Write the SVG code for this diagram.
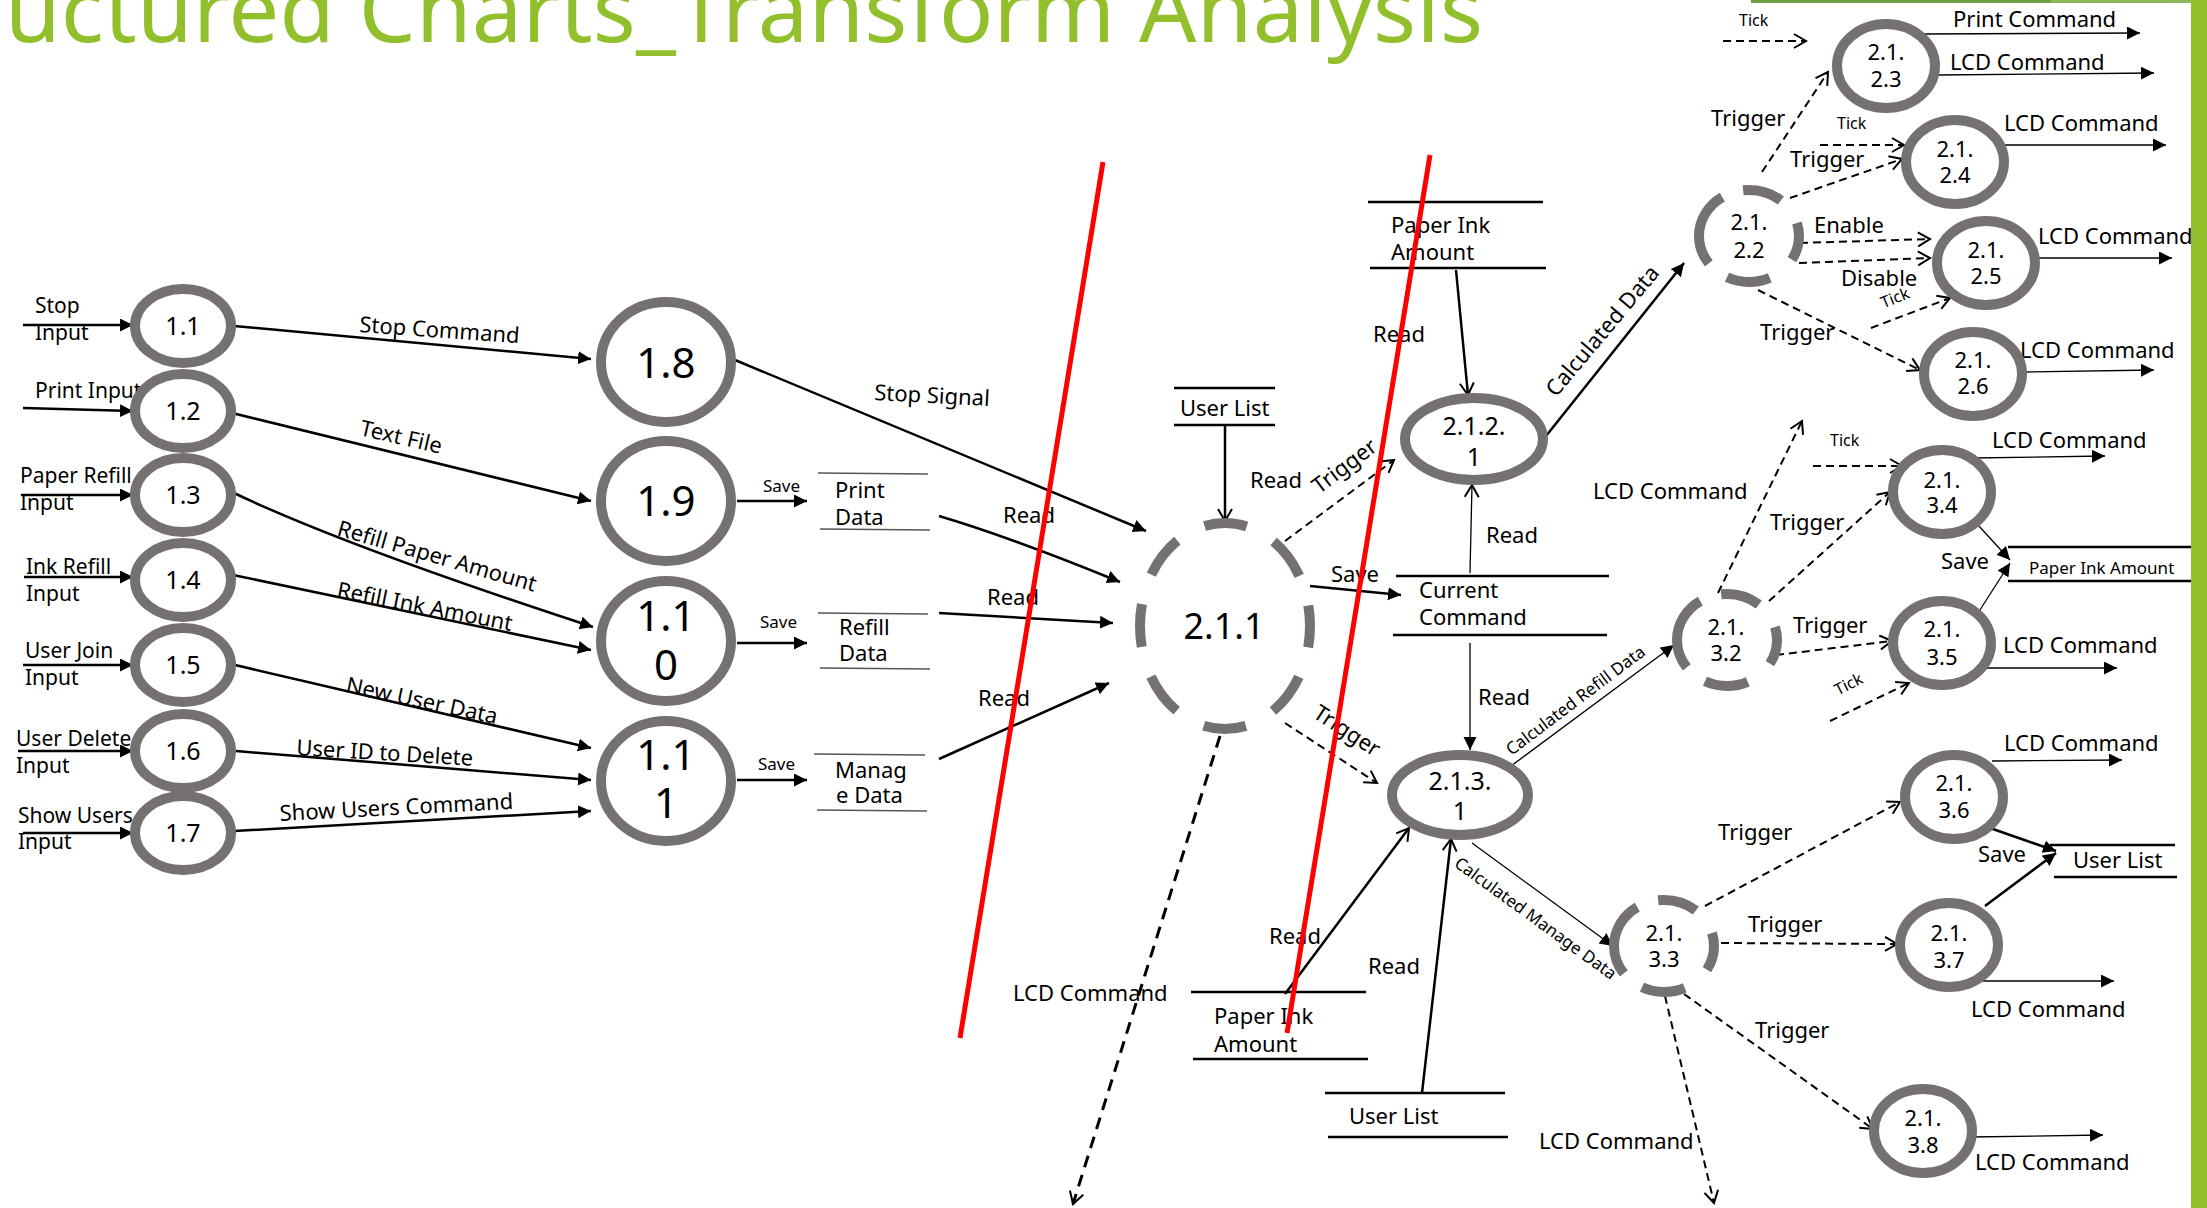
<svg xmlns="http://www.w3.org/2000/svg" width="2207" height="1208" viewBox="0 0 2207 1208">
<defs>
<style>
text{font-family:"Noto Sans","Open Sans","Liberation Sans",sans-serif;fill:#000;font-size:22px}
.ring{fill:#fff;stroke:#767171;stroke-width:10}
.dring{fill:none;stroke:#767171;stroke-width:10;stroke-dasharray:39 29 44 23 77 22 40 28;stroke-dashoffset:14}
.s{fill:none;stroke:#000;stroke-width:2.5;marker-end:url(#af)}
.so{fill:none;stroke:#000;stroke-width:2.5;marker-end:url(#ao)}
.th{fill:none;stroke:#000;stroke-width:1.3;marker-end:url(#af)}
.tho{fill:none;stroke:#000;stroke-width:1.3;marker-end:url(#ao)}
.d{fill:none;stroke:#000;stroke-width:2;stroke-dasharray:8 5;marker-end:url(#ao)}
.st{stroke:#000;stroke-width:2.5}
.st2{stroke:#555;stroke-width:1.5}
.red{stroke:#f00;stroke-width:5}
.c25{font-size:25px;text-anchor:middle}
.c22{font-size:22px;text-anchor:middle}
.c42{font-size:42px;text-anchor:middle}
.sm{font-size:17px}
.tk{font-size:16px}
.in{font-size:21px}
</style>
<marker id="af" markerUnits="userSpaceOnUse" markerWidth="14" markerHeight="14" refX="13" refY="6.5" orient="auto"><path d="M0,0 L13,6.5 L0,13 z" fill="#000"/></marker>
<marker id="ao" markerUnits="userSpaceOnUse" markerWidth="16" markerHeight="18" refX="13" refY="8" orient="auto" overflow="visible"><path d="M1,1 L13,8 L1,15" fill="none" stroke="#000" stroke-width="2"/></marker>
</defs>
<rect x="0" y="0" width="2207" height="1208" fill="#fff"/>
<g id="frame">
<rect x="1751" y="0" width="300" height="3" fill="#6F9E45"/>
<rect x="2051" y="0" width="140" height="3" fill="#8DB85A"/>
<rect x="2191" y="0" width="16" height="1208" fill="#92C02C"/>
<text x="5" y="42" font-size="90" fill="#92C02C" style="fill:#92C02C;font-size:90px" textLength="1478">uctured Charts_Transform Analysis</text>
</g>

<g id="connectors">
<!-- inputs -->
<path class="s" d="M23,325 H133"/>
<path class="s" d="M23,408 L133,411"/>
<path class="s" d="M21,495 H133"/>
<path class="s" d="M24,577 H133"/>
<path class="s" d="M23,665 H133"/>
<path class="s" d="M18,751 H133"/>
<path class="s" d="M23,833 H133"/>
<text class="in" x="35" y="313">Stop</text><text class="in" x="35" y="340">Input</text>
<text class="in" x="35" y="398">Print Input</text>
<text class="in" x="20" y="483">Paper Refill</text><text class="in" x="20" y="510">Input</text>
<text class="in" x="26" y="574">Ink Refill</text><text class="in" x="26" y="601">Input</text>
<text class="in" x="25" y="658">User Join</text><text class="in" x="25" y="685">Input</text>
<text class="in" x="16" y="746">User Delete</text><text class="in" x="16" y="773">Input</text>
<text class="in" x="18" y="823">Show Users</text><text class="in" x="18" y="849">Input</text>
<!-- left to big -->
<path class="s" d="M234,326 L591,359"/>
<text x="359" y="332" transform="rotate(4 359 332)">Stop Command</text>
<path class="s" d="M232,413 L591,501"/>
<text x="359" y="435" transform="rotate(13 359 435)">Text File</text>
<path class="s" d="M234,493 Q345,546 593,627"/>
<text x="336" y="535" transform="rotate(16 336 535)">Refill Paper Amount</text>
<path class="s" d="M233,575 L591,650"/>
<text x="336" y="597" transform="rotate(11 336 597)">Refill Ink Amount</text>
<path class="s" d="M235,665 L591,748"/>
<text x="345" y="692" transform="rotate(12 345 692)">New User Data</text>
<path class="s" d="M236,751 L591,780"/>
<text x="296" y="755" transform="rotate(3.5 296 755)">User ID to Delete</text>
<path class="s" d="M234,831 L591,811"/>
<text x="280" y="821" transform="rotate(-3 280 821)">Show Users Command</text>
<!-- big circles out -->
<path class="s" d="M735,360 L1146,531"/>
<text x="874" y="400" transform="rotate(3 874 400)">Stop Signal</text>
<path class="s" d="M737,501 H807"/><text class="sm" x="763" y="492">Save</text>
<path class="s" d="M737,643 H807"/><text class="sm" x="760" y="628">Save</text>
<path class="s" d="M737,780 H807"/><text class="sm" x="758" y="770">Save</text>
<path class="s" d="M939,516 Q1010,537 1120,582"/><text x="1003" y="523">Read</text>
<path class="s" d="M939,613 L1113,623"/><text x="987" y="605">Read</text>
<path class="s" d="M939,759 L1109,683"/><text x="978" y="706">Read</text>
<!-- around 2.1.1 -->
<path class="so" d="M1225,425 V521"/><text x="1250" y="488">Read</text>
<path class="d" d="M1285,541 L1394,460"/>
<text class="c22" x="1349" y="472" transform="rotate(-37 1349 472)">Trigger</text>
<path class="s" d="M1310,586 L1401,595"/><text x="1331" y="582">Save</text>
<path class="tho" d="M1470,573 L1472,485"/><text x="1486" y="543">Read</text>
<path class="th" d="M1470,643 V750"/><text x="1478" y="705">Read</text>
<path class="so" d="M1456,270 L1468,395"/><text x="1373" y="342">Read</text>
<path class="s" d="M1546,436 L1684,263"/>
<text x="1556" y="398" transform="rotate(-50 1556 398)">Calculated Data</text>
<path class="d" d="M1285,723 L1377,783"/>
<text class="c22" x="1343" y="737" transform="rotate(33 1343 737)">Trigger</text>
<path d="M1220,736 L1073,1204" fill="none" stroke="#000" stroke-width="3" stroke-dasharray="12 8" marker-end="url(#ao)"/>
<text x="1013" y="1001">LCD Command</text>
<path class="so" d="M1285,994 L1409,828"/><text x="1269" y="944">Read</text>
<path class="so" d="M1422,1093 L1451,839"/><text x="1368" y="974">Read</text>
<path class="th" d="M1511,766 L1674,645"/>
<text class="sm" x="1579" y="705" text-anchor="middle" transform="rotate(-37 1579 705)">Calculated Refill Data</text>
<path class="th" d="M1472,843 L1613,946"/>
<text class="sm" x="1532" y="923" text-anchor="middle" transform="rotate(36 1532 923)">Calculated Manage Data</text>
<!-- 2.1.2.x -->
<path class="d" d="M1723,41 H1806"/><text class="tk" x="1739" y="26">Tick</text>
<path class="d" d="M1762,172 L1828,72"/><text x="1711" y="126">Trigger</text>
<path class="th" d="M1922,34 L2140,33"/><text x="1953" y="27">Print Command</text>
<path class="th" d="M1936,75 L2154,73"/><text x="1950" y="70">LCD Command</text>
<path class="d" d="M1820,145 H1904"/><text class="tk" x="1837" y="129">Tick</text>
<path class="d" d="M1790,198 L1902,159"/><text x="1790" y="167">Trigger</text>
<path class="th" d="M2004,145 H2166"/><text x="2004" y="131">LCD Command</text>
<path class="d" d="M1800,243 L1930,239"/><text x="1814" y="233">Enable</text>
<path class="d" d="M1799,263 L1930,258"/><text x="1841" y="286">Disable</text>
<path class="th" d="M2036,258 H2172"/><text x="2038" y="244">LCD Command</text>
<path class="d" d="M1871,328 L1950,298"/>
<text class="tk" x="1897" y="303" text-anchor="middle" transform="rotate(-22 1897 303)">Tick</text>
<path class="d" d="M1758,290 L1920,370"/><text x="1760" y="340">Trigger</text>
<path class="th" d="M2024,372 L2154,370"/><text x="2020" y="358">LCD Command</text>
<!-- 2.1.3.x -->
<path class="d" d="M1718,593 L1802,421"/><text x="1593" y="499">LCD Command</text>
<path class="d" d="M1813,466 H1902"/><text class="tk" x="1830" y="446">Tick</text>
<path class="d" d="M1769,601 L1890,492"/><text x="1770" y="530">Trigger</text>
<path class="th" d="M1973,458 L2105,456"/><text x="1992" y="448">LCD Command</text>
<path class="th" d="M1978,525 L2010,560"/>
<path class="th" d="M1978,613 L2010,563"/>
<text x="1941" y="569">Save</text>
<path class="d" d="M1776,655 L1892,641"/><text x="1793" y="633">Trigger</text>
<path class="d" d="M1830,721 L1909,683"/>
<text class="tk" x="1851" y="689" text-anchor="middle" transform="rotate(-27 1851 689)">Tick</text>
<path class="th" d="M1987,668 H2117"/><text x="2003" y="653">LCD Command</text>
<path class="th" d="M1992,761 L2122,760"/><text x="2004" y="751">LCD Command</text>
<path class="d" d="M1705,906 L1900,802"/><text x="1718" y="840">Trigger</text>
<path class="s" d="M1990,828 L2056,851"/>
<path class="s" d="M1985,906 L2056,853"/>
<text x="1978" y="862">Save</text>
<path class="d" d="M1721,943 L1897,944"/><text x="1748" y="932">Trigger</text>
<path class="th" d="M1983,981 H2114"/><text x="1971" y="1017">LCD Command</text>
<path class="d" d="M1684,994 L1873,1129"/><text x="1755" y="1038">Trigger</text>
<path class="th" d="M1971,1137 L2103,1135"/><text x="1975" y="1170">LCD Command</text>
<path class="d" d="M1665,996 L1714,1203"/><text x="1539" y="1149">LCD Command</text>
</g>

<g id="stores">
<g id="store-print-data"><line class="st2" x1="818" y1="473" x2="928" y2="474"/><line class="st2" x1="820" y1="529" x2="930" y2="530"/><text x="835" y="498">Print</text><text x="835" y="525">Data</text></g>
<g id="store-refill-data"><line class="st2" x1="818" y1="613" x2="928" y2="614"/><line class="st2" x1="820" y1="668" x2="930" y2="669"/><text x="839" y="635">Refill</text><text x="839" y="661">Data</text></g>
<g id="store-manage-data"><line class="st2" x1="814" y1="754" x2="925" y2="755"/><line class="st2" x1="817" y1="810" x2="927" y2="811"/><text x="835" y="778">Manag</text><text x="836" y="803">e Data</text></g>
<g id="store-user-list-1"><line class="st" x1="1174" y1="388" x2="1275" y2="388"/><line class="st" x1="1174" y1="425" x2="1275" y2="425"/><text x="1180" y="416">User List</text></g>
<g id="store-current-command"><line class="st" x1="1396" y1="576" x2="1609" y2="576"/><line class="st" x1="1393" y1="635" x2="1607" y2="635"/><text x="1419" y="598">Current</text><text x="1419" y="625">Command</text></g>
<g id="store-paper-ink-1"><line class="st" x1="1368" y1="202" x2="1543" y2="202"/><line class="st" x1="1370" y1="268" x2="1546" y2="268"/><text x="1391" y="233">Paper Ink</text><text x="1391" y="260">Amount</text></g>
<g id="store-paper-ink-2"><line class="st" x1="1191" y1="992" x2="1366" y2="992"/><line class="st" x1="1193" y1="1059" x2="1368" y2="1059"/><text x="1214" y="1024">Paper Ink</text><text x="1214" y="1052">Amount</text></g>
<g id="store-user-list-2"><line class="st" x1="1325" y1="1093" x2="1505" y2="1093"/><line class="st" x1="1328" y1="1137" x2="1508" y2="1137"/><text x="1349" y="1124">User List</text></g>
<g id="store-paper-ink-3"><line class="st" x1="2008" y1="547" x2="2191" y2="547"/><line class="st" x1="2008" y1="581" x2="2191" y2="581"/><text class="sm" x="2029" y="574">Paper Ink Amount</text></g>
<g id="store-user-list-3"><line class="st" x1="2050" y1="845" x2="2175" y2="845"/><line class="st" x1="2054" y1="877" x2="2177" y2="877"/><text x="2073" y="868">User List</text></g>
</g>

<g id="nodes">
<g id="n1-1"><ellipse class="ring" cx="183" cy="326" rx="48" ry="37"/><text class="c25" x="183" y="335">1.1</text></g>
<g id="n1-2"><ellipse class="ring" cx="183" cy="411" rx="48" ry="37"/><text class="c25" x="183" y="420">1.2</text></g>
<g id="n1-3"><ellipse class="ring" cx="183" cy="495" rx="48" ry="37"/><text class="c25" x="183" y="504">1.3</text></g>
<g id="n1-4"><ellipse class="ring" cx="183" cy="580" rx="48" ry="37"/><text class="c25" x="183" y="589">1.4</text></g>
<g id="n1-5"><ellipse class="ring" cx="183" cy="665" rx="48" ry="37"/><text class="c25" x="183" y="674">1.5</text></g>
<g id="n1-6"><ellipse class="ring" cx="183" cy="751" rx="48" ry="37"/><text class="c25" x="183" y="760">1.6</text></g>
<g id="n1-7"><ellipse class="ring" cx="183" cy="833" rx="48" ry="37"/><text class="c25" x="183" y="842">1.7</text></g>
<g id="n1-8"><ellipse class="ring" cx="666" cy="362" rx="65" ry="60"/><text class="c42" x="666" y="378">1.8</text></g>
<g id="n1-9"><ellipse class="ring" cx="666" cy="501" rx="65" ry="60"/><text class="c42" x="666" y="516">1.9</text></g>
<g id="n1-10"><ellipse class="ring" cx="666" cy="641" rx="65" ry="60"/><text class="c42" x="666" y="631">1.1</text><text class="c42" x="666" y="680">0</text></g>
<g id="n1-11"><ellipse class="ring" cx="666" cy="781" rx="65" ry="60"/><text class="c42" x="666" y="770">1.1</text><text class="c42" x="666" y="818">1</text></g>
<g id="n2-1-1"><ellipse cx="1225" cy="626" rx="85" ry="103" fill="none" stroke="#767171" stroke-width="10" stroke-dasharray="43 31" stroke-dashoffset="21.5"/><text x="1224" y="639" text-anchor="middle" style="font-size:36px">2.1.1</text></g>
<g id="n2-1-2-1"><ellipse class="ring" cx="1474" cy="439" rx="69" ry="41"/><text class="c25" x="1474" y="435">2.1.2.</text><text class="c25" x="1474" y="466">1</text></g>
<g id="n2-1-3-1"><ellipse class="ring" cx="1460" cy="795" rx="68" ry="40"/><text class="c25" x="1460" y="790">2.1.3.</text><text class="c25" x="1460" y="820">1</text></g>
<g id="n2-1-2-2"><ellipse class="dring" cx="1749" cy="236" rx="50" ry="46"/><text class="c22" x="1749" y="230">2.1.</text><text class="c22" x="1749" y="258">2.2</text></g>
<g id="n2-1-2-3"><ellipse class="ring" cx="1886" cy="66" rx="49" ry="42"/><text class="c22" x="1886" y="60">2.1.</text><text class="c22" x="1886" y="87">2.3</text></g>
<g id="n2-1-2-4"><ellipse class="ring" cx="1955" cy="162" rx="49" ry="42"/><text class="c22" x="1955" y="157">2.1.</text><text class="c22" x="1955" y="183">2.4</text></g>
<g id="n2-1-2-5"><ellipse class="ring" cx="1986" cy="263" rx="49" ry="42"/><text class="c22" x="1986" y="258">2.1.</text><text class="c22" x="1986" y="284">2.5</text></g>
<g id="n2-1-2-6"><ellipse class="ring" cx="1973" cy="374" rx="49" ry="42"/><text class="c22" x="1973" y="368">2.1.</text><text class="c22" x="1973" y="394">2.6</text></g>
<g id="n2-1-3-2"><ellipse class="dring" cx="1727" cy="640" rx="50" ry="46"/><text class="c22" x="1726" y="635">2.1.</text><text class="c22" x="1726" y="661">3.2</text></g>
<g id="n2-1-3-3"><ellipse class="dring" cx="1664" cy="946" rx="50" ry="46"/><text class="c22" x="1664" y="941">2.1.</text><text class="c22" x="1664" y="967">3.3</text></g>
<g id="n2-1-3-4"><ellipse class="ring" cx="1942" cy="492" rx="49" ry="42"/><text class="c22" x="1942" y="488">2.1.</text><text class="c22" x="1942" y="513">3.4</text></g>
<g id="n2-1-3-5"><ellipse class="ring" cx="1942" cy="643" rx="49" ry="42"/><text class="c22" x="1942" y="637">2.1.</text><text class="c22" x="1942" y="665">3.5</text></g>
<g id="n2-1-3-6"><ellipse class="ring" cx="1954" cy="797" rx="49" ry="42"/><text class="c22" x="1954" y="791">2.1.</text><text class="c22" x="1954" y="818">3.6</text></g>
<g id="n2-1-3-7"><ellipse class="ring" cx="1949" cy="945" rx="49" ry="42"/><text class="c22" x="1949" y="941">2.1.</text><text class="c22" x="1949" y="968">3.7</text></g>
<g id="n2-1-3-8"><ellipse class="ring" cx="1923" cy="1131" rx="49" ry="42"/><text class="c22" x="1923" y="1126">2.1.</text><text class="c22" x="1923" y="1153">3.8</text></g>
</g>

<g id="cuts">
<line class="red" x1="1103" y1="162" x2="960" y2="1038"/>
<line class="red" x1="1430" y1="155" x2="1287" y2="1033"/>
</g>
</svg>
